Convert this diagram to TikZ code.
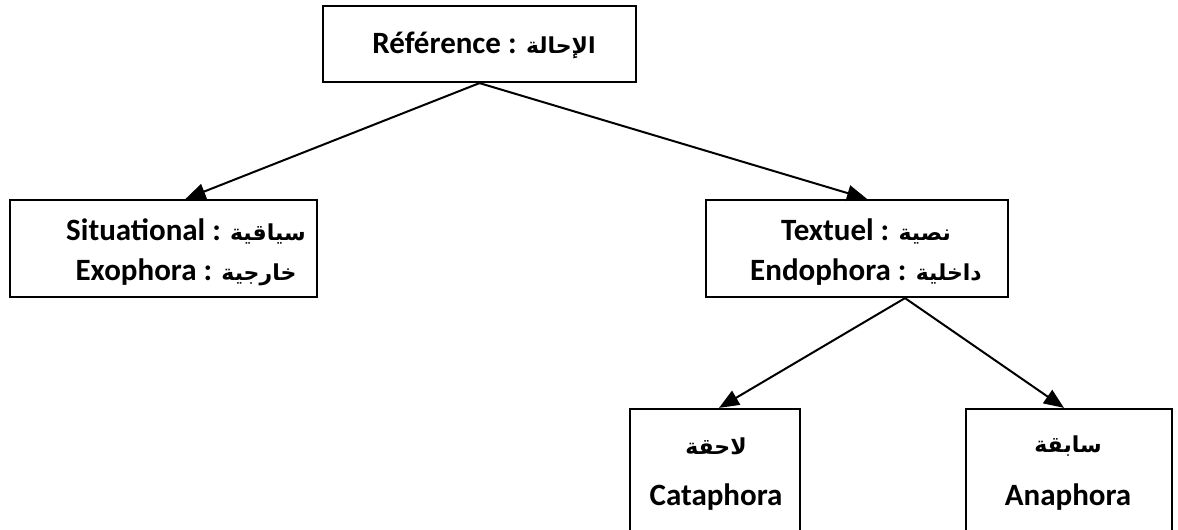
\documentclass[tikz,border=0pt]{standalone}
\usepackage{fontspec}
\setmainfont{Carlito}
\newfontfamily\arabicfont[Script=Arabic]{DejaVu Sans}
\TeXXeTstate=1
\usetikzlibrary{arrows.meta}
\newcommand\arx[1]{{\arabicfont\bfseries\fontsize{22}{26}\selectfont\beginR #1\endR}}
\begin{document}
\begin{tikzpicture}[x=1pt,y=-1pt,
  box/.style={draw, line width=2.2pt, inner sep=0pt},
  lbl/.style={font=\bfseries\fontsize{31}{36}\selectfont, inner sep=0pt},
  conn/.style={line width=2pt, -{Triangle[length=20pt,width=16pt]}}]
\useasboundingbox (0,0) rectangle (1178,530);
% boxes
\node[box, minimum width=313, minimum height=76] (ref) at (479.5,44) {};
\node[box, minimum width=307, minimum height=97] (sit) at (163.5,248.5) {};
\node[box, minimum width=302, minimum height=97] (tex) at (857,248.5) {};
\node[box, minimum width=170, minimum height=122] (cat) at (715,470) {};
\node[box, minimum width=206, minimum height=122] (ana) at (1069,470) {};
% labels
\node[lbl] (reft) at (484,45) {Référence : \arx{الإحالة}};
\node[lbl] (sit1) at (186,231) {Situational : \arx{سياقية}};
\node[lbl] (sit2) at (186,272) {Exophora : \arx{خارجية}};
\node[lbl] (tex1) at (866,231) {Textuel : \arx{نصية}};
\node[lbl] (tex2) at (866,272) {Endophora : \arx{داخلية}};
\node[lbl] (cat1) at (716,446) {\arx{لاحقة}};
\node[lbl] (cat2) at (716,497) {Cataphora};
\node[lbl] (ana1) at (1068,446) {\arx{سابقة}};
\node[lbl] (ana2) at (1068,497) {Anaphora};
% connectors
\coordinate (refb) at (ref.south);
\coordinate (texb) at ([xshift=48]tex.south);
\draw[conn] (refb) -- ([xshift=22]sit.north);
\draw[conn] (refb) -- ([xshift=10]tex.north);
\draw[conn] (texb) -- ([xshift=4]cat.north);
\draw[conn] (texb) -- ([xshift=-5]ana.north);
\end{tikzpicture}
\end{document}
